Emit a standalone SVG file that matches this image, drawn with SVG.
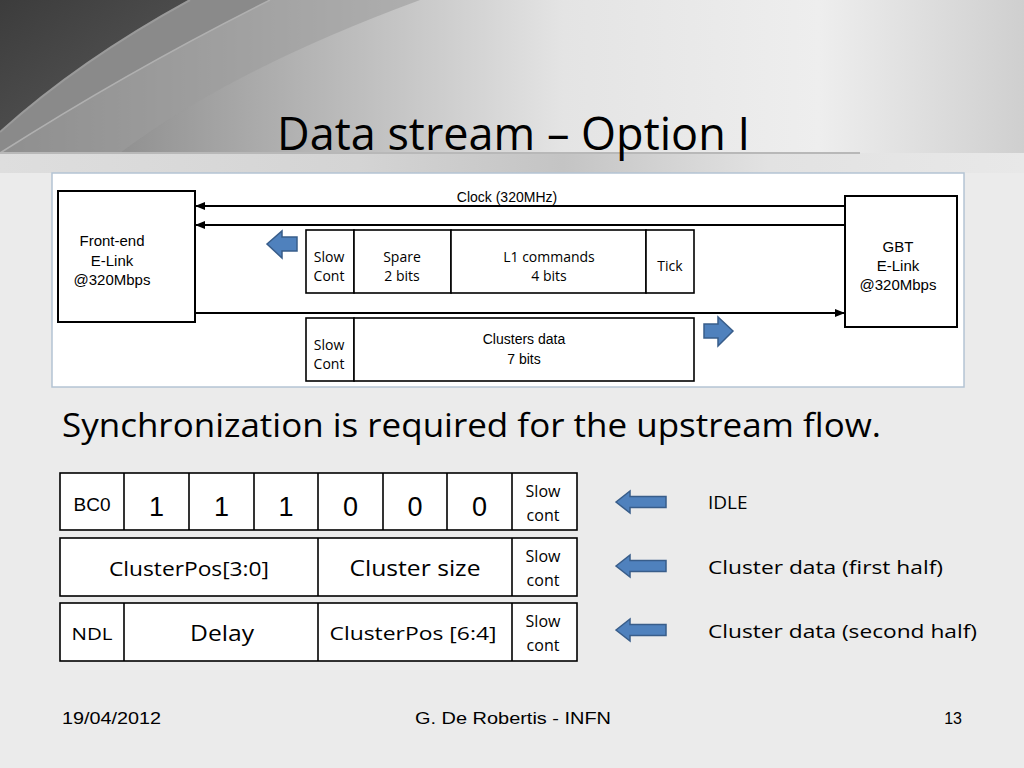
<svg xmlns="http://www.w3.org/2000/svg" width="1024" height="768" viewBox="0 0 1024 768">
<defs>
<linearGradient id="topg" x1="0" y1="0" x2="1" y2="0">
<stop offset="0" stop-color="#7a7a7a"/>
<stop offset="0.3" stop-color="#b4b4b4"/>
<stop offset="0.55" stop-color="#e4e4e4"/>
<stop offset="0.8" stop-color="#eeeeee"/>
<stop offset="1" stop-color="#cfcfcf"/>
</linearGradient>
<linearGradient id="bandg" x1="0" y1="0" x2="1" y2="0">
<stop offset="0" stop-color="#dedede"/>
<stop offset="0.35" stop-color="#d4d4d4"/>
<stop offset="0.55" stop-color="#c4c4c4"/>
<stop offset="0.75" stop-color="#e2e2e2"/>
<stop offset="1" stop-color="#e8e8e8"/>
</linearGradient>
<linearGradient id="dark" x1="0" y1="0" x2="1" y2="1">
<stop offset="0" stop-color="#3c3c3c"/>
<stop offset="1" stop-color="#5a5a5a"/>
</linearGradient>
<marker id="ah" markerWidth="10" markerHeight="8" refX="9" refY="4" orient="auto" markerUnits="userSpaceOnUse">
<path d="M0,0 L10,4 L0,8 Z" fill="#000"/>
</marker>
<path id="barrowL" d="M0,0 L14,-11 L14,-5.5 L50,-5.5 L50,5.5 L14,5.5 L14,11 Z"/>
</defs>
<style>
.box{fill:#fff;stroke:#000;stroke-width:2}
.cell{fill:#fff;stroke:#000;stroke-width:1.6}
.line{stroke:#000;stroke-width:1.8;fill:none}
.ba{fill:#4f81bd;stroke:#385d8a;stroke-width:1.5}
.ar{font-family:"Liberation Sans",Arial,sans-serif;fill:#000}
.ca{font-family:"Open Sans","Liberation Sans",sans-serif;fill:#000}
.mid{text-anchor:middle}
</style>
<!-- background -->
<rect x="0" y="0" width="1024" height="768" fill="#ebebeb"/>
<rect x="0" y="0" width="1024" height="153" fill="url(#topg)"/>
<path d="M0,0 L420,0 Q230,70 120,153 L0,153 Z" fill="#9c9c9c" opacity="0.6"/>
<path d="M0,0 L270,0 Q130,70 0,153 Z" fill="#8a8a8a"/>
<path d="M0,0 L190,0 Q80,60 0,132 Z" fill="url(#dark)"/>
<path d="M190,0 Q80,60 0,132" fill="none" stroke="#9a9a9a" stroke-width="2"/>
<path d="M270,0 Q130,70 0,153" fill="none" stroke="#b0b0b0" stroke-width="1.5"/>
<rect x="0" y="153" width="1024" height="20" fill="url(#bandg)"/>
<line x1="0" y1="153" x2="860" y2="153" stroke="#b8b8b8" stroke-width="2"/>
<text x="277" y="150" class="ca" font-size="45" textLength="473" lengthAdjust="spacingAndGlyphs">Data stream – Option I</text>
<!-- panel -->
<rect x="52" y="173" width="912" height="214" fill="#fff" stroke="#b4c4d4" stroke-width="1.5"/>
<!-- nodes -->
<g id="frontend">
<rect class="box" x="58" y="191" width="137" height="131"/>
<text class="ar mid" x="112" y="246" font-size="15">Front-end</text>
<text class="ar mid" x="112" y="266" font-size="15">E-Link</text>
<text class="ar mid" x="112" y="285" font-size="15">@320Mbps</text>
</g>
<g id="gbt">
<rect class="box" x="845" y="196" width="112" height="131"/>
<text class="ar mid" x="898" y="252" font-size="15">GBT</text>
<text class="ar mid" x="898" y="271" font-size="15">E-Link</text>
<text class="ar mid" x="898" y="290" font-size="15">@320Mbps</text>
</g>
<g id="connectors">
<line class="line" x1="845" y1="206" x2="196" y2="206" marker-end="url(#ah)"/>
<line class="line" x1="845" y1="225" x2="196" y2="225" marker-end="url(#ah)"/>
<line class="line" x1="195" y1="313" x2="844" y2="313" marker-end="url(#ah)"/>
</g>
<text class="ar mid" x="507" y="202" font-size="14">Clock (320MHz)</text>
<g id="downframe">
<rect class="cell" x="306" y="230" width="48" height="63"/>
<rect class="cell" x="354" y="230" width="97" height="63"/>
<rect class="cell" x="451" y="230" width="195" height="63"/>
<rect class="cell" x="646" y="230" width="48" height="63"/>
<text class="ca mid" x="329" y="262" font-size="14">Slow</text>
<text class="ca mid" x="329" y="281" font-size="14">Cont</text>
<text class="ca mid" x="402" y="262" font-size="14">Spare</text>
<text class="ca mid" x="402" y="281" font-size="14">2 bits</text>
<text class="ca mid" x="549" y="262" font-size="14">L1 commands</text>
<text class="ca mid" x="549" y="281" font-size="14">4 bits</text>
<text class="ca mid" x="670" y="271" font-size="14">Tick</text>
</g>
<g id="upframe">
<rect class="cell" x="306" y="318" width="48" height="63"/>
<rect class="cell" x="354" y="318" width="340" height="63"/>
<text class="ca mid" x="329" y="350" font-size="14">Slow</text>
<text class="ca mid" x="329" y="369" font-size="14">Cont</text>
<text class="ar mid" x="524" y="344" font-size="14">Clusters data</text>
<text class="ar mid" x="524" y="364" font-size="14">7 bits</text>
</g>
<g id="arrow-down">
<path class="ba" d="M267,244 L282,231 L282,237 L297,237 L297,251 L282,251 L282,258 Z"/>
</g>
<g id="arrow-up">
<path class="ba" d="M733,331 L718,317 L718,324 L704,324 L704,338 L718,338 L718,346 Z"/>
</g>
<text x="62" y="437" class="ca" font-size="33" textLength="819" lengthAdjust="spacingAndGlyphs">Synchronization is required for the upstream flow.</text>
<!-- table rows -->
<g id="row-idle">
<rect class="cell" x="60" y="473" width="517" height="57"/>
<g stroke="#000" stroke-width="1.6">
<line x1="124" y1="473" x2="124" y2="530"/>
<line x1="189" y1="473" x2="189" y2="530"/>
<line x1="254" y1="473" x2="254" y2="530"/>
<line x1="318" y1="473" x2="318" y2="530"/>
<line x1="383" y1="473" x2="383" y2="530"/>
<line x1="447" y1="473" x2="447" y2="530"/>
<line x1="512" y1="473" x2="512" y2="530"/>
</g>
<text class="ar mid" x="92" y="511" font-size="19">BC0</text>
<text class="ar mid" x="156.5" y="516" font-size="27">1</text>
<text class="ar mid" x="221.5" y="516" font-size="27">1</text>
<text class="ar mid" x="286" y="516" font-size="27">1</text>
<text class="ar mid" x="350.5" y="516" font-size="27">0</text>
<text class="ar mid" x="415" y="516" font-size="27">0</text>
<text class="ar mid" x="479.5" y="516" font-size="27">0</text>
<text class="ca mid" x="543" y="497" font-size="16">Slow</text>
<text class="ca mid" x="543" y="521" font-size="16">cont</text>
</g>
<g id="row-first">
<rect class="cell" x="60" y="538" width="517" height="58"/>
<g stroke="#000" stroke-width="1.6">
<line x1="318" y1="538" x2="318" y2="596"/>
<line x1="512" y1="538" x2="512" y2="596"/>
</g>
<text class="ca mid" x="189" y="576" font-size="20" textLength="160" lengthAdjust="spacingAndGlyphs">ClusterPos[3:0]</text>
<text class="ca mid" x="415" y="576" font-size="22" textLength="131" lengthAdjust="spacingAndGlyphs">Cluster size</text>
<text class="ca mid" x="543" y="562" font-size="16">Slow</text>
<text class="ca mid" x="543" y="586" font-size="16">cont</text>
</g>
<g id="row-second">
<rect class="cell" x="60" y="603" width="517" height="58"/>
<g stroke="#000" stroke-width="1.6">
<line x1="124" y1="603" x2="124" y2="661"/>
<line x1="318" y1="603" x2="318" y2="661"/>
<line x1="512" y1="603" x2="512" y2="661"/>
</g>
<text class="ca mid" x="92" y="640" font-size="17" textLength="41" lengthAdjust="spacingAndGlyphs">NDL</text>
<text class="ca mid" x="222" y="641" font-size="22" textLength="64" lengthAdjust="spacingAndGlyphs">Delay</text>
<text class="ca mid" x="413" y="640" font-size="18" textLength="167" lengthAdjust="spacingAndGlyphs">ClusterPos [6:4]</text>
<text class="ca mid" x="543" y="627" font-size="16">Slow</text>
<text class="ca mid" x="543" y="651" font-size="16">cont</text>
</g>
<!-- legend arrows -->
<g id="legend-idle">
<use href="#barrowL" class="ba" x="616" y="502"/>
<text class="ca" x="708" y="509" font-size="19">IDLE</text>
</g>
<g id="legend-first">
<use href="#barrowL" class="ba" x="616" y="566"/>
<text class="ca" x="708" y="574" font-size="19" textLength="235" lengthAdjust="spacingAndGlyphs">Cluster data (first half)</text>
</g>
<g id="legend-second">
<use href="#barrowL" class="ba" x="616" y="630"/>
<text class="ca" x="708" y="638" font-size="19" textLength="269" lengthAdjust="spacingAndGlyphs">Cluster data (second half)</text>
</g>
<!-- footer -->
<text class="ar" x="62" y="724" font-size="16" textLength="99" lengthAdjust="spacingAndGlyphs">19/04/2012</text>
<text class="ar mid" x="513" y="724" font-size="16" textLength="196" lengthAdjust="spacingAndGlyphs">G. De Robertis - INFN</text>
<text class="ar" x="962" y="724" font-size="16" text-anchor="end">13</text>
</svg>
